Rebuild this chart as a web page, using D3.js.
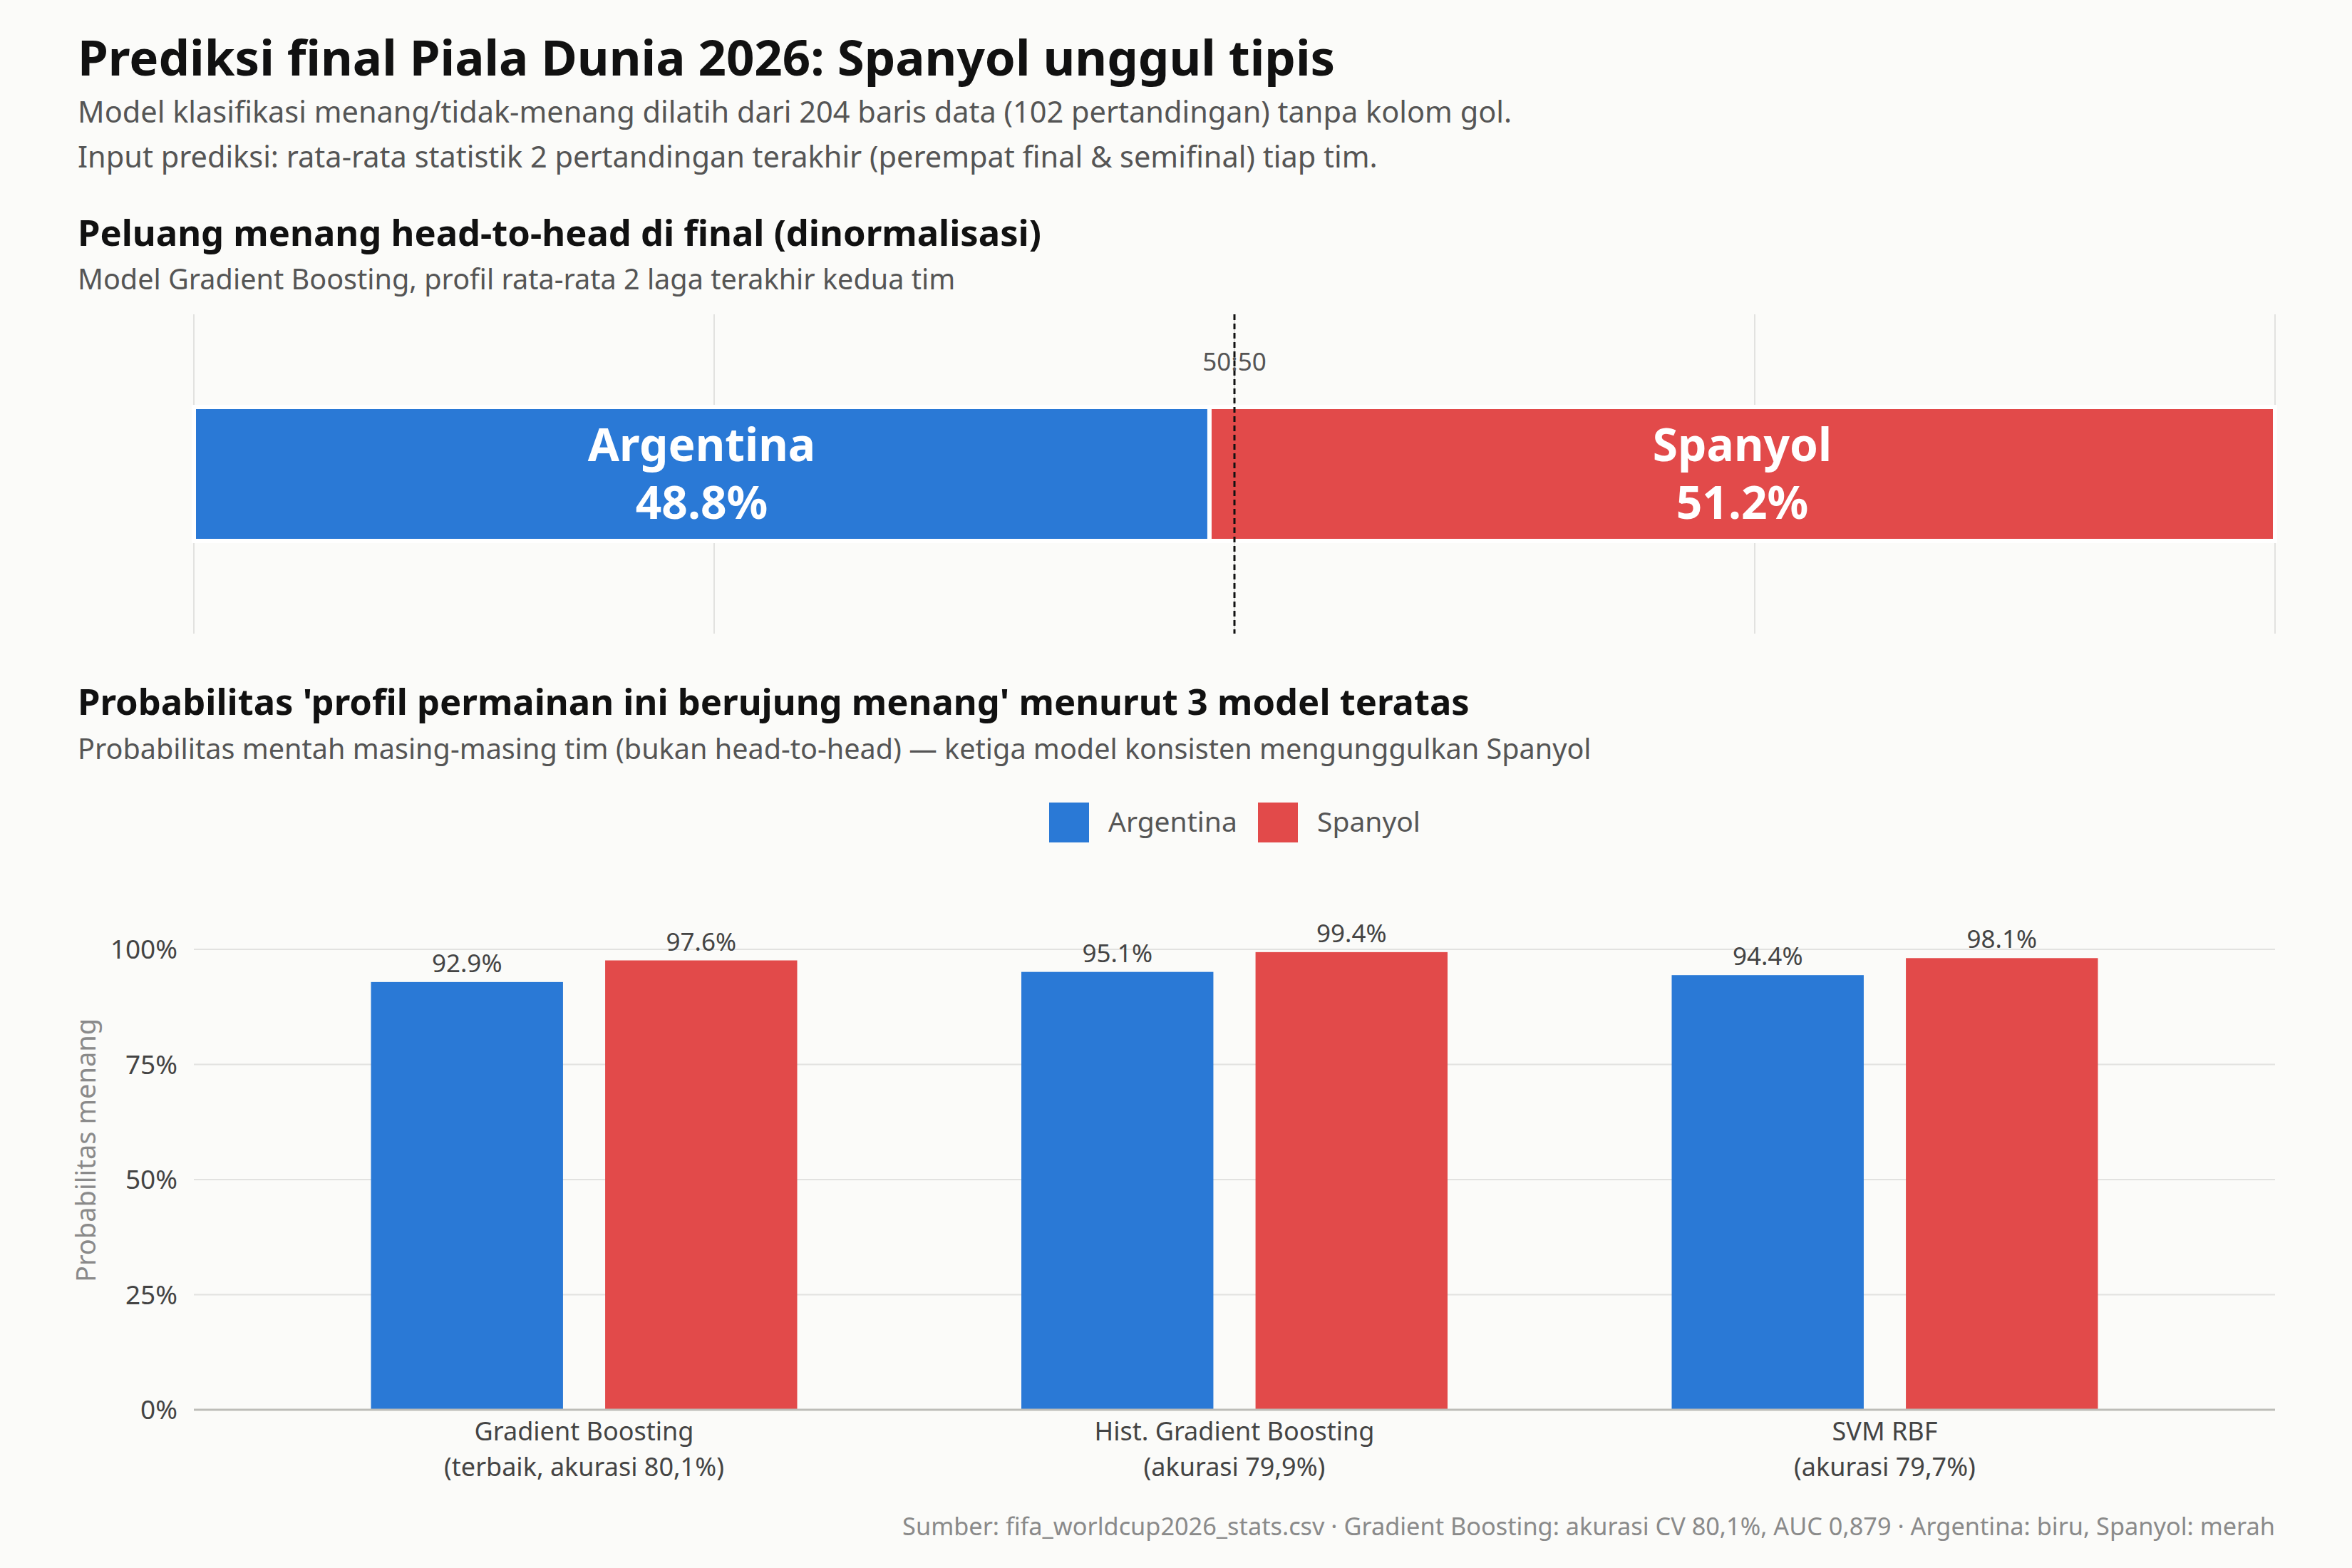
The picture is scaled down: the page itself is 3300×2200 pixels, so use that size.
<!DOCTYPE html>
<html>
<head>
<meta charset="utf-8">
<script src="https://cdn.jsdelivr.net/npm/d3@7"></script>
<style>
  html, body { margin: 0; padding: 0; background: #FBFBF9; }
  svg { display: block; font-family: "Noto Sans", "DejaVu Sans", sans-serif; }
</style>
</head>
<body>
<svg id="chart" width="3300" height="2200"></svg>
<script>
// ---- data ----
const teams = ["Argentina", "Spanyol"];
const h2hValues = [48.8, 51.2];
const models = ["Gradient Boosting", "Hist. Gradient Boosting", "SVM RBF"];
const modelNotes = ["(terbaik, akurasi 80,1%)", "(akurasi 79,9%)", "(akurasi 79,7%)"];
const argentinaProb = [92.9, 95.1, 94.4];
const spanyolProb = [97.6, 99.4, 98.1];
const yTicks = [0, 25, 50, 75, 100];
const h2hGridTicks = [0, 25, 50, 75, 100];

const colors = { Argentina: "#2A79D6", Spanyol: "#E24A4A" };

const svg = d3.select("#chart");
svg.append("rect").attr("width", 3300).attr("height", 2200).attr("fill", "#FBFBF9");

const left = 272, right = 3192;

// ---- headings ----
svg.append("text").attr("x", 109).attr("y", 106)
  .attr("font-size", 69).attr("font-weight", 700).attr("fill", "#111")
  .text("Prediksi final Piala Dunia 2026: Spanyol unggul tipis");
svg.append("text").attr("x", 109).attr("y", 172)
  .attr("font-size", 41.5).attr("fill", "#555")
  .text("Model klasifikasi menang/tidak-menang dilatih dari 204 baris data (102 pertandingan) tanpa kolom gol.");
svg.append("text").attr("x", 109).attr("y", 235)
  .attr("font-size", 41.5).attr("fill", "#555")
  .text("Input prediksi: rata-rata statistik 2 pertandingan terakhir (perempat final & semifinal) tiap tim.");

svg.append("text").attr("x", 109).attr("y", 345)
  .attr("font-size", 50.7).attr("font-weight", 700).attr("fill", "#111")
  .text("Peluang menang head-to-head di final (dinormalisasi)");
svg.append("text").attr("x", 109).attr("y", 406)
  .attr("font-size", 39.6).attr("fill", "#555")
  .text("Model Gradient Boosting, profil rata-rata 2 laga terakhir kedua tim");

// ---- top: head-to-head stacked bar ----
const xH = d3.scaleLinear().domain([0, 100]).range([left, right]);
const topY0 = 441, topY1 = 889;
const barTop = 571, barBot = 759;

const gTop = svg.append("g");
gTop.selectAll("line.grid").data(h2hGridTicks).join("line")
  .attr("x1", d => xH(d)).attr("x2", d => xH(d))
  .attr("y1", topY0).attr("y2", topY1)
  .attr("stroke", "#E2E2E0").attr("stroke-width", 2);

let acc = 0;
const segs = teams.map((t, i) => { const s = { team: t, v: h2hValues[i], x0: acc }; acc += h2hValues[i]; return s; });

gTop.selectAll("rect.seg").data(segs).join("rect")
  .attr("x", d => xH(d.x0)).attr("width", d => xH(d.x0 + d.v) - xH(d.x0))
  .attr("y", barTop).attr("height", barBot - barTop)
  .attr("fill", d => colors[d.team])
  .attr("stroke", "#FFFFFF").attr("stroke-width", 6);

gTop.append("line")
  .attr("x1", xH(50)).attr("x2", xH(50)).attr("y1", topY0).attr("y2", topY1)
  .attr("stroke", "#111").attr("stroke-width", 3).attr("stroke-dasharray", "8,5");
gTop.append("text").attr("x", xH(50)).attr("y", 520).attr("text-anchor", "middle")
  .attr("font-size", 35).attr("fill", "#555").text("50:50");

gTop.selectAll("text.name").data(segs).join("text")
  .attr("x", d => xH(d.x0 + d.v / 2)).attr("y", 647)
  .attr("text-anchor", "middle").attr("font-size", 64).attr("font-weight", 700).attr("fill", "#fff")
  .text(d => d.team);
gTop.selectAll("text.pct").data(segs).join("text")
  .attr("x", d => xH(d.x0 + d.v / 2)).attr("y", 728)
  .attr("text-anchor", "middle").attr("font-size", 64).attr("font-weight", 700).attr("fill", "#fff")
  .text(d => d.v.toFixed(1) + "%");

// ---- second section headings ----
svg.append("text").attr("x", 109).attr("y", 1003)
  .attr("font-size", 50.7).attr("font-weight", 700).attr("fill", "#111")
  .text("Probabilitas 'profil permainan ini berujung menang' menurut 3 model teratas");
svg.append("text").attr("x", 109).attr("y", 1065)
  .attr("font-size", 39.6).attr("fill", "#555")
  .text("Probabilitas mentah masing-masing tim (bukan head-to-head) — ketiga model konsisten mengunggulkan Spanyol");

// legend
const legendX = [1472, 1765];
const lg = svg.append("g");
teams.forEach((t, i) => {
  lg.append("rect").attr("x", legendX[i]).attr("y", 1126).attr("width", 56).attr("height", 56).attr("fill", colors[t]);
  lg.append("text").attr("x", legendX[i] + 83).attr("y", 1167).attr("font-size", 39).attr("fill", "#555").text(t);
});

// ---- bottom grouped bar chart ----
const yB = d3.scaleLinear().domain([0, 100]).range([1978, 1332]);
const xB = d3.scalePoint().domain(models).range([left, right]).padding(0.6);
const xInner = d3.scaleBand().domain(teams).range([-299, 299]).paddingInner(0.18);

const gB = svg.append("g");
gB.selectAll("line.ygrid").data(yTicks.filter(d => d > 0)).join("line")
  .attr("x1", left).attr("x2", right).attr("y1", d => yB(d)).attr("y2", d => yB(d))
  .attr("stroke", "#E2E2E0").attr("stroke-width", 2);

gB.selectAll("text.ytick").data(yTicks).join("text")
  .attr("x", 249).attr("y", d => yB(d) + 13).attr("text-anchor", "end")
  .attr("font-size", 37).attr("fill", "#444")
  .text(d => d + "%");

gB.append("text")
  .attr("transform", `translate(134,1614) rotate(-90)`)
  .attr("text-anchor", "middle").attr("font-size", 38).attr("fill", "#8A8A8A")
  .text("Probabilitas menang");

const rows = [];
models.forEach((m, i) => {
  rows.push({ model: m, team: "Argentina", v: argentinaProb[i] });
  rows.push({ model: m, team: "Spanyol", v: spanyolProb[i] });
});

gB.selectAll("rect.bar").data(rows).join("rect")
  .attr("x", d => xB(d.model) + xInner(d.team)).attr("width", xInner.bandwidth())
  .attr("y", d => yB(d.v)).attr("height", d => yB(0) - yB(d.v))
  .attr("fill", d => colors[d.team]);

gB.selectAll("text.val").data(rows).join("text")
  .attr("x", d => xB(d.model) + xInner(d.team) + xInner.bandwidth() / 2)
  .attr("y", d => yB(d.v) - 14).attr("text-anchor", "middle")
  .attr("font-size", 35).attr("fill", "#444")
  .text(d => d.v.toFixed(1) + "%");

gB.append("line").attr("x1", left).attr("x2", right).attr("y1", yB(0)).attr("y2", yB(0))
  .attr("stroke", "#BDBDB8").attr("stroke-width", 3);

models.forEach((m, i) => {
  gB.append("text").attr("x", xB(m)).attr("y", 2021).attr("text-anchor", "middle")
    .attr("font-size", 36).attr("fill", "#444").text(m);
  gB.append("text").attr("x", xB(m)).attr("y", 2071).attr("text-anchor", "middle")
    .attr("font-size", 36).attr("fill", "#444").text(modelNotes[i]);
});

// footer
svg.append("text").attr("x", right).attr("y", 2154).attr("text-anchor", "end")
  .attr("font-size", 34.3).attr("fill", "#8A8A8A")
  .text("Sumber: fifa_worldcup2026_stats.csv · Gradient Boosting: akurasi CV 80,1%, AUC 0,879 · Argentina: biru, Spanyol: merah");
</script>
</body>
</html>
